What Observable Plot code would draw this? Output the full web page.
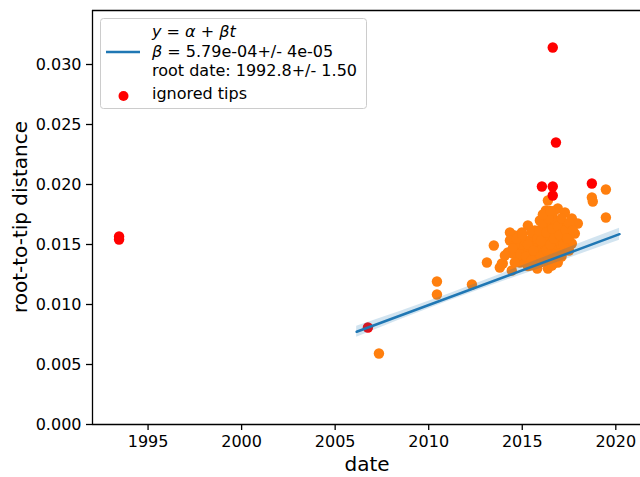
<!DOCTYPE html>
<html><head><meta charset="utf-8">
<script src="https://cdn.jsdelivr.net/npm/d3@7"></script>
<script src="https://cdn.jsdelivr.net/npm/@observablehq/plot@0.6"></script>
<style>body{margin:0;background:#fff;} svg{display:block;}</style>
</head><body><div id="chart"></div>
<script>
// kept tips (orange)
const keptDate = [2007.34,2010.44,2010.44,2012.31,2013.11,2013.48,2013.80,2013.96,
 2018.72,2018.77,2019.47,2019.47,
 2016.37,2016.26,2016.58,2016.90,2017.28,2017.65,2017.97,2017.81,2017.65,2017.33,2017.01,2016.74,
 2016.21,2015.94,2015.67,2015.30,2014.98,2014.60,2014.34,2014.23,2013.91,2014.44,2014.87,2015.14,
 2015.41,2015.67,2015.94,2016.21,2016.47,2016.74,2017.01,2016.47,2016.21,2016.37,2016.58,2015.94,
 2015.67,2015.41,2015.14,2014.76,2014.50,2014.34,2014.87,2015.41,2015.94,2016.47,2016.74,2017.12,
 2017.39,2017.54,2017.28,2016.21,2016.47,2015.14,2014.60,2014.07,2016.74,2017.01,2015.67,2016.21,2016.58,
 2014.5,2014.7,2014.9,2015.0,2015.2,2015.3,2015.5,2015.5,2015.6,2015.8,2015.8,2015.9,2016.0,2016.0,
 2016.1,2016.3,2016.3,2016.4,2016.4,2016.5,2016.6,2016.7,2016.7,2016.8,2016.9,2016.9,2017.0,2017.1,
 2017.2,2017.3,2017.4,2017.5,2017.5,2017.7,2017.1,2016.6,2015.3,2014.6,2016.1,2016.5];
const keptDist = [0.00592,0.01192,0.01083,0.01167,0.01350,0.01492,0.01308,0.01342,
 0.01892,0.01858,0.01958,0.01725,
 0.01867,0.01783,0.01742,0.01800,0.01767,0.01717,0.01675,0.01592,0.01508,0.01533,0.01658,0.01617,
 0.01658,0.01575,0.01617,0.01658,0.01600,0.01575,0.01600,0.01433,0.01342,0.01283,0.01350,0.01450,
 0.01408,0.01492,0.01450,0.01492,0.01533,0.01492,0.01450,0.01408,0.01367,0.01300,0.01325,0.01350,
 0.01350,0.01325,0.01350,0.01408,0.01425,0.01533,0.01492,0.01533,0.01700,0.01683,0.01700,0.01617,
 0.01633,0.01575,0.01450,0.01575,0.01617,0.01533,0.01492,0.01408,0.01383,0.01508,0.01408,0.01450,0.01467,
 0.0147,0.0155,0.0142,0.0158,0.0140,0.0150,0.0160,0.0137,0.0145,0.0155,0.0130,0.0162,0.0140,0.0153,
 0.0168,0.0145,0.0160,0.0172,0.0138,0.0150,0.0163,0.0155,0.0178,0.0142,0.0165,0.0135,0.0158,0.0172,
 0.0150,0.0162,0.0155,0.0168,0.0145,0.0162,0.0140,0.0133,0.0132,0.0135,0.0175,0.0178];
// ignored tips (red)
const ignoredDate = [1993.45,1993.45,2006.75,2016.63,2016.80,2016.05,2016.63,2016.63,2018.72];
const ignoredDist = [0.01567,0.01542,0.00808,0.03142,0.02350,0.01983,0.01983,0.01908,0.02008];
// regression line and confidence band
const fitDate = [2006.15, 2020.2];
const fitDist = [0.00773, 0.01586];
const bandDate = [2006.15,2008.5,2011,2013.5,2016,2018.5,2020.2];
const bandLow  = [0.00728,0.00875,0.01024,0.01166,0.01303,0.01441,0.01536];
const bandHigh = [0.00818,0.00943,0.01084,0.01232,0.01383,0.01535,0.01636];
const xTicks = [1995,2000,2005,2010,2015,2020];
const yTicks = [0,0.005,0.010,0.015,0.020,0.025,0.030];

const kept = keptDate.map((d,i)=>({date:d, dist:keptDist[i]}));
const ignored = ignoredDate.map((d,i)=>({date:d, dist:ignoredDist[i]}));
const fit = fitDate.map((d,i)=>({date:d, dist:fitDist[i]}));
const band = bandDate.map((d,i)=>({date:d, low:bandLow[i], high:bandHigh[i]}));

const X0 = 1992.03, X1 = 2021.32, YMAX = 0.0345;
const plot = Plot.plot({
  width:640, height:477, marginLeft:92, marginRight:0, marginTop:10, marginBottom:53,
  style:{fontFamily:"DejaVu Sans", fontSize:"16px", color:"black", background:"white"},
  x:{domain:[X0,X1], label:null},
  y:{domain:[0,YMAX], label:null},
  marks:[
    Plot.dot(kept,{x:"date",y:"dist",r:5.2,fill:"#ff7f0e"}),
    Plot.dot(ignored,{x:"date",y:"dist",r:5.2,fill:"#ff0000"}),
    Plot.areaY(band,{x:"date",y1:"low",y2:"high",fill:"#1f77b4",fillOpacity:0.2}),
    Plot.line(fit,{x:"date",y:"dist",stroke:"#1f77b4",strokeWidth:2.5}),
    Plot.ruleX([X0],{stroke:"black",strokeWidth:1.3}),
    Plot.ruleY([0],{stroke:"black",strokeWidth:1.3}),
    Plot.ruleY([YMAX],{stroke:"black",strokeWidth:1.3}),
    Plot.axisX({ticks:xTicks, tickSize:6, tickPadding:5, tickFormat:d=>String(d), label:null, strokeWidth:1.3}),
    Plot.axisY({ticks:yTicks, tickSize:6, tickPadding:5, tickFormat:d3.format(".3f"), label:null, strokeWidth:1.3})
  ]
});
document.getElementById("chart").appendChild(plot);

const svg = d3.select(plot);
const F = "DejaVu Sans";
svg.append("text").attr("x",367).attr("y",471).attr("text-anchor","middle")
  .attr("font-family",F).attr("font-size",20).attr("fill","black").text("date");
svg.append("text").attr("transform","translate(27,217) rotate(-90)").attr("text-anchor","middle")
  .attr("font-family",F).attr("font-size",20).attr("fill","black").text("root-to-tip distance");

const lg = svg.append("g").attr("font-family",F).attr("font-size",16).attr("fill","black")
  .attr("text-anchor","start");
lg.append("rect").attr("x",100.5).attr("y",18.5).attr("width",266).attr("height",90).attr("rx",3)
  .attr("fill","white").attr("fill-opacity",0.8).attr("stroke","#cccccc").attr("stroke-width",1);
lg.append("line").attr("x1",106).attr("x2",140).attr("y1",52).attr("y2",52)
  .attr("stroke","#1f77b4").attr("stroke-width",2.5);
lg.append("circle").attr("cx",123.5).attr("cy",96).attr("r",5).attr("fill","#ff0000");
const t1 = lg.append("text").attr("x",152).attr("y",37);
t1.append("tspan").attr("font-style","italic").text("y");
t1.append("tspan").text(" = ");
t1.append("tspan").attr("font-style","italic").text("α");
t1.append("tspan").text(" + ");
t1.append("tspan").attr("font-style","italic").text("βt");
const t2 = lg.append("text").attr("x",152).attr("y",57);
t2.append("tspan").attr("font-style","italic").text("β");
t2.append("tspan").text(" = 5.79e-04+/- 4e-05");
lg.append("text").attr("x",152).attr("y",76).text("root date: 1992.8+/- 1.50");
lg.append("text").attr("x",152).attr("y",99).text("ignored tips");
</script>
</body></html>
